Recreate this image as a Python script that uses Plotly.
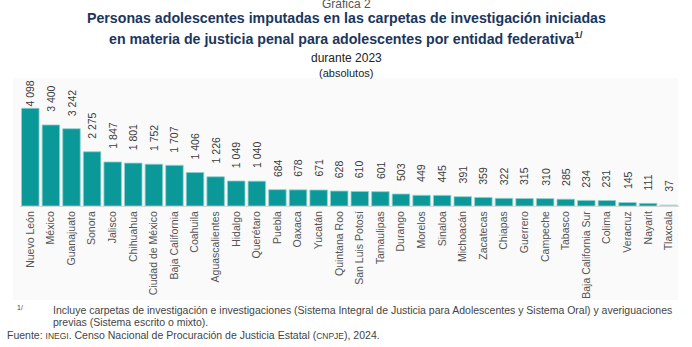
import plotly.graph_objects as go

estados = ["Nuevo León", "México", "Guanajuato", "Sonora", "Jalisco", "Chihuahua",
           "Ciudad de México", "Baja California", "Coahuila", "Aguascalientes", "Hidalgo",
           "Querétaro", "Puebla", "Oaxaca", "Yucatán", "Quintana Roo", "San Luis Potosí",
           "Tamaulipas", "Durango", "Morelos", "Sinaloa", "Michoacán", "Zacatecas",
           "Chiapas", "Guerrero", "Campeche", "Tabasco", "Baja California Sur", "Colima",
           "Veracruz", "Nayarit", "Tlaxcala"]
valores = [4098, 3400, 3242, 2275, 1847, 1801, 1752, 1707, 1406, 1226, 1049, 1040,
           684, 678, 671, 628, 610, 601, 503, 449, 445, 391, 359, 322, 315, 310, 285,
           234, 231, 145, 111, 37]

W, H = 692, 347
T, B_PX = 80, 206  # plot top / baseline pixel
L, R_PX = 20, 679
ymax = 4098 * (B_PX - T) / 97.7

colores = ["#0b9898"] * (len(valores) - 1) + ["#bfe3e3"]
etiquetas = [f"{v:,}".replace(",", " ") for v in valores]

fig = go.Figure(go.Bar(
    x=estados, y=valores,
    marker=dict(color=colores, line=dict(color="#8fd0d0", width=0.8)),
    cliponaxis=False, hoverinfo="x+y",
))

def py(p):
    return (B_PX - p) / (B_PX - T)

def px(p):
    return (p - L) / (R_PX - L)

# value labels, rotated, floating above each bar (kept inside chart top)
ppu = (B_PX - T) / ymax
for e, v, t in zip(estados, valores, etiquetas):
    top_px = B_PX - v * ppu
    est_len = 5.6 * len(t)
    shift = 11
    if top_px - shift - est_len < 83:
        shift = max(0, top_px - 83 - est_len)
    fig.add_annotation(x=e, y=v, text=t, showarrow=False, textangle=-90,
                       xanchor="center", yanchor="bottom", yshift=shift,
                       font=dict(size=10.5, color="#3a3a3a", family="Liberation Sans"))

fig.update_layout(
    width=W, height=H,
    margin=dict(l=L, r=W - R_PX, t=T, b=H - B_PX, pad=0),
    paper_bgcolor="white", plot_bgcolor="rgba(0,0,0,0)",
    showlegend=False, bargap=0.15,
    font=dict(family="Liberation Sans", color="#444"),
    xaxis=dict(tickangle=-90, tickfont=dict(size=10.5, color="#555"), showline=True,
               linecolor="#d8d8d8", linewidth=1, ticks="", showgrid=False),
    yaxis=dict(range=[0, ymax], visible=False, showgrid=False),
)

fig.add_shape(type="rect", xref="paper", yref="paper", x0=px(13), x1=px(678),
              y0=py(300), y1=py(78), fillcolor="#fafafa", line=dict(width=0), layer="below")

ann = [
    dict(text="Gráfica 2", x=346, y=4, size=12, color="#555"),
    dict(text="<b>Personas adolescentes imputadas en las carpetas de investigación iniciadas</b>",
         x=346, y=18, size=14.2, color="#1b365d"),
    dict(text="<b>en materia de justicia penal para adolescentes por entidad federativa<sup>1/</sup></b>",
         x=346, y=38, size=14.2, color="#1b365d"),
    dict(text="durante 2023", x=346, y=58, size=12, color="#222"),
    dict(text="(absolutos)", x=346, y=73, size=11, color="#222"),
]
for a in ann:
    fig.add_annotation(text=a["text"], x=px(a["x"]), y=py(a["y"]), xref="paper", yref="paper",
                       showarrow=False, xanchor="center", yanchor="middle",
                       font=dict(size=a["size"], color=a["color"], family="Liberation Sans"))

foot = [
    ("1/", 15, 307, 7),
    ("Incluye carpetas de investigación e investigaciones (Sistema Integral de Justicia para Adolescentes y Sistema Oral) y averiguaciones", 51, 310, 10.5),
    ("previas (Sistema escrito o mixto).", 51, 322, 10.5),
    ("Fuente: <span style='font-size:8.5px'>INEGI</span>. Censo Nacional de Procuración de Justicia Estatal (<span style='font-size:8.5px'>CNPJE</span>), 2024.", 5, 335, 10.5),
]
for t, x, y, s in foot:
    fig.add_annotation(text=t, x=px(x), y=py(y), xref="paper", yref="paper", showarrow=False,
                       xanchor="left", yanchor="middle",
                       font=dict(size=s, color="#444", family="Liberation Sans"))

fig.write_html("out.html")
